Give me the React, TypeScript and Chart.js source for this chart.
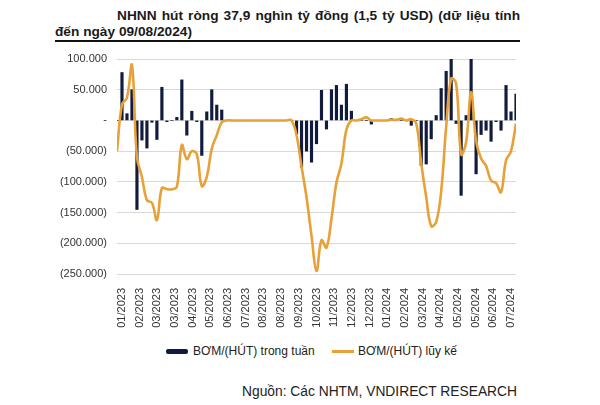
import React, { useEffect, useRef } from "react";
import { Chart, registerables } from "chart.js";

Chart.register(...registerables);

const titleText = "NHNN hút ròng 37,9 nghìn tỷ đồng (1,5 tỷ USD) (dữ liệu tính đến ngày 09/08/2024)";
const barLabel = "BƠM/(HÚT) trong tuần";
const lineLabel = "BƠM/(HÚT) lũy kế";
const sourceText = "Nguồn: Các NHTM, VNDIRECT RESEARCH";

const xTickLabels = [
  "01/2023", "02/2023", "03/2023", "03/2023", "04/2023", "05/2023", "06/2023", "07/2023",
  "08/2023", "08/2023", "09/2023", "10/2023", "11/2023", "12/2023", "12/2023", "01/2024",
  "02/2024", "03/2024", "04/2024", "05/2024", "05/2024", "06/2024", "07/2024",
];
// week positions of the tick labels
const xTickWeeks = [1, 4.55, 8.09, 11.64, 15.18, 18.73, 22.27, 25.82, 29.36, 32.91, 36.45, 40, 43.55, 47.09, 50.64, 54.18, 57.73, 61.27, 64.82, 68.36, 71.91, 75.45, 79];

// weekly net injection / (withdrawal), bn VND
const weeklyValues = [
  0, 78000, 11000, 50000, -145000, -32000, -45000, -3000, -31000, 54000,
  -2000, 0, 5000, 66000, -24000, 15000, -2000, -57000, 14000, 50000,
  25000, 17000, 0, 0, 0, 0, 0, 0, 0, 0,
  0, 0, 0, 0, 0, 0, -22000, -76000, -50000, -68000,
  -38000, 49000, -14000, 50000, 57000, 25000, 59000, 15000, 0, 0,
  0, -6000, 0, 0, 0, 3000, 0, 0, 0, -8000,
  0, -73000, -71000, -30000, 8000, 52000, 80000, 100000, -5000, -122000,
  8000, 100000, -87000, -23000, -16000, -34000, -2000, -16000, 57000, 14000,
  43000,
];

// cumulative net injection / (withdrawal), bn VND
const cumulativeValues = [
  -50000, 26000, 37000, 90000, -60000, -92000, -130000, -134000, -162000, -110000,
  -112000, -112000, -108000, -40000, -63000, -50000, -55000, -107000, -92000, -46000,
  -24000, -3000, 0, 0, 0, 0, 0, 0, 0, 0,
  0, 0, 0, 0, 0, 0, -24000, -75000, -125000, -188000,
  -245000, -195000, -207000, -160000, -101000, -70000, -15000, 0, 0, 2000,
  5000, 0, 0, 0, 0, 1000, 1000, 3000, 0, 2000,
  -5000, -70000, -125000, -172000, -165000, -115000, -10000, 68000, 60000, -55000,
  -35000, 46000, -34000, -62000, -74000, -98000, -102000, -117000, -65000, -50000,
  -5000,
];

const yMin = -250000;
const yMax = 100000;
const yStep = 50000;

const fmt = (v: number) => Math.round(v).toString().replace(/\B(?=(\d{3})+(?!\d))/g, ".");

export default function App() {
  const ref = useRef<HTMLCanvasElement | null>(null);

  useEffect(() => {
    if (!ref.current) return;
    const chart = new Chart(ref.current, {
      type: "bar",
      data: {
        datasets: [
          {
            type: "line",
            label: lineLabel,
            data: cumulativeValues.map((v, i) => ({ x: i, y: v })),
            borderColor: "#E8A136",
            backgroundColor: "#E8A136",
            borderWidth: 2.6,
            pointRadius: 0,
            tension: 0.4,
            order: 0,
          } as any,
          {
            type: "bar",
            label: barLabel,
            data: weeklyValues.map((v, i) => ({ x: i, y: v })),
            backgroundColor: "#101b3d",
            barThickness: 2.5,
            order: 1,
          } as any,
        ],
      },
      options: {
        animation: false,
        responsive: false,
        maintainAspectRatio: false,
        layout: { autoPadding: false, padding: { left: 0, right: 84, top: 9, bottom: 0 } },
        plugins: { legend: { display: false }, tooltip: { enabled: false } },
        scales: {
          x: {
            type: "linear",
            min: 0,
            max: 80,
            offset: false,
            grid: { display: false },
            border: { display: false },
            afterBuildTicks: (axis: any) => {
              axis.ticks = xTickWeeks.map((w) => ({ value: w }));
            },
            afterFit: (axis: any) => {
              axis.height = 56;
              axis.paddingLeft = 0;
              axis.paddingRight = 0;
            },
            ticks: {
              autoSkip: false,
              maxRotation: 90,
              minRotation: 90,
              padding: 6,
              color: "#333",
              font: { family: "'Liberation Sans', Arial, sans-serif", size: 11 },
              callback: (_v: any, index: number) => xTickLabels[index],
            },
          },
          y: {
            min: yMin,
            max: yMax,
            grid: { color: "#d9d9d9", lineWidth: 1, drawTicks: false },
            border: { display: false },
            afterFit: (axis: any) => {
              axis.width = 117;
              axis.paddingTop = 0;
              axis.paddingBottom = 0;
            },
            ticks: {
              stepSize: yStep,
              padding: 10,
              color: "#333",
              font: { family: "'Liberation Sans', Arial, sans-serif", size: 11 },
              callback: (v: any) => {
                const n = Number(v);
                if (n === 0) return "-";
                return n < 0 ? `(${fmt(-n)})` : fmt(n);
              },
            },
          },
        },
      } as any,
    });
    return () => chart.destroy();
  }, []);

  const font = "'Liberation Sans', Arial, sans-serif";
  return (
    <div style={{ position: "absolute", left: 0, top: 0, width: 600, height: 405, background: "#fff", fontFamily: font }}>
      <div
        style={{
          position: "absolute",
          left: 55,
          top: 8,
          width: 465,
          fontSize: 13.7,
          fontWeight: "bold",
          lineHeight: "16px",
          textAlign: "justify",
          textIndent: 62,
          color: "#1a1a1a",
        }}
      >
        {titleText}
      </div>
      <div style={{ position: "absolute", left: 55, top: 40, width: 465, height: 2, background: "#111" }} />
      <canvas ref={ref} width={600} height={280} style={{ position: "absolute", left: 0, top: 50, width: 600, height: 280 }} />
      <div style={{ position: "absolute", left: 166, top: 349, width: 22, height: 5, borderRadius: 2, background: "#101b3d" }} />
      <div style={{ position: "absolute", left: 193, top: 344, fontSize: 12, color: "#222", whiteSpace: "nowrap" }}>{barLabel}</div>
      <div style={{ position: "absolute", left: 332, top: 350, width: 22, height: 3, background: "#E8A136" }} />
      <div style={{ position: "absolute", left: 358, top: 344, fontSize: 12, color: "#222", whiteSpace: "nowrap" }}>{lineLabel}</div>
      <div style={{ position: "absolute", left: 242, top: 384, fontSize: 13.8, color: "#222", whiteSpace: "nowrap" }}>{sourceText}</div>
    </div>
  );
}
